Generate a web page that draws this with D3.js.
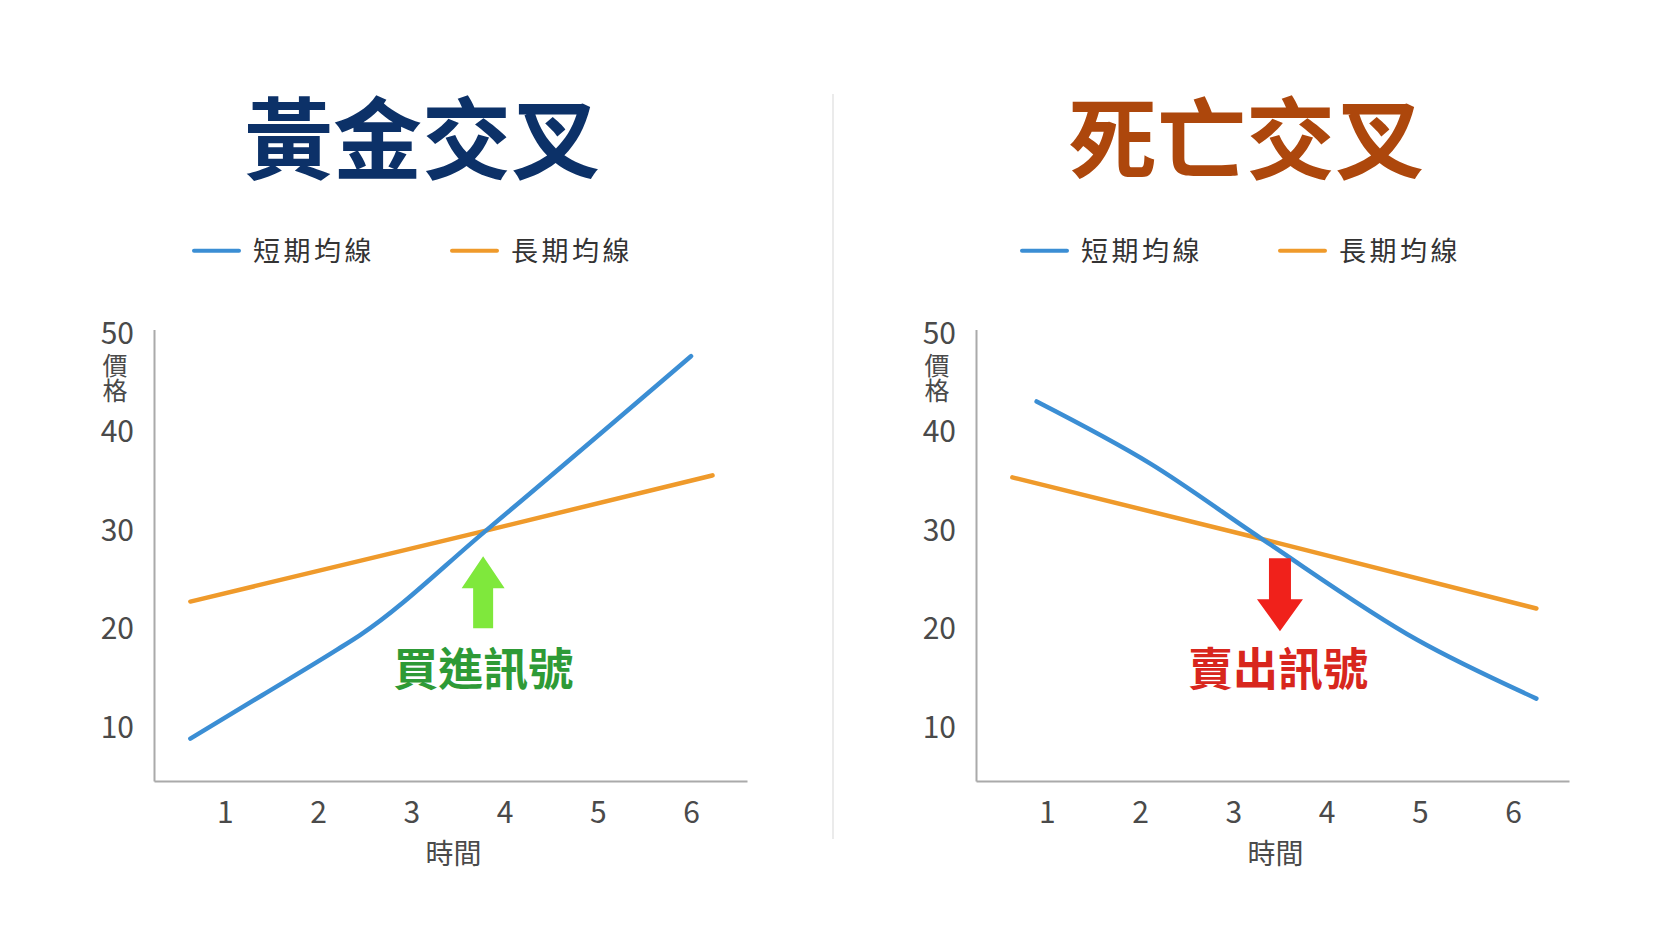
<!DOCTYPE html>
<html><head><meta charset="utf-8">
<script src="https://cdn.jsdelivr.net/npm/d3@7"></script>
<style>
html,body{margin:0;padding:0;background:#fff;}
svg{display:block;}
text{font-family:"Noto Sans CJK TC","Noto Sans CJK SC",sans-serif;}
</style></head>
<body>
<svg id="c" width="1666" height="937"></svg>
<script>
// ---- data ----
const timeTicks = [1, 2, 3, 4, 5, 6];
const priceTicks = [10, 20, 30, 40, 50];
const seriesNames = ["短期均線", "長期均線"];
const panelTitles = ["黃金交叉", "死亡交叉"];
const signalLabels = ["買進訊號", "賣出訊號"];

const goldenShortX = [0.63, 1.4, 2.2, 2.45, 3.8, 6.0];
const goldenShortY = [8.9, 13.3, 17.9, 19.4, 30.0, 47.7];
const goldenLongX = [0.63, 3.8, 6.23];
const goldenLongY = [22.8, 30.0, 35.6];

const deathShortX = [0.89, 2.11, 3.285, 4.975, 6.25];
const deathShortY = [43.1, 36.8, 29.3, 18.9, 12.96];
const deathLongX = [0.63, 3.285, 6.25];
const deathLongY = [35.4, 29.2, 22.1];

// signal annotation anchors (data space): arrow x, arrow start, arrow end, label x, label y
const buySignal = {x: 3.77, from: 20.1, to: 27.4, labelX: 3.77, labelY: 16.0};
const sellSignal = {x: 3.50, from: 27.2, to: 19.8, labelX: 3.48, labelY: 16.0};

// ---- styles ----
const BLUE = "#3b8ed4", ORANGE = "#ef9a2b";
const svg = d3.select("#c");
svg.append("rect").attr("width", 1666).attr("height", 937).attr("fill", "#fff");

// separator
svg.append("line").attr("x1", 833).attr("x2", 833).attr("y1", 94).attr("y2", 839)
  .attr("stroke", "#e4e4e4").attr("stroke-width", 1.5);

const panels = [
  {dx: 0, title: panelTitles[0], titleColor: "#0c3168", titleX: 422,
   short: goldenShortX.map((x, i) => ({x, y: goldenShortY[i]})),
   long: goldenLongX.map((x, i) => ({x, y: goldenLongY[i]})),
   signal: buySignal, label: signalLabels[0], labelColor: "#2e9a36", arrowColor: "#7fe83c",
   legendX: 194},
  {dx: 822, title: panelTitles[1], titleColor: "#ad470c", titleX: 1246,
   short: deathShortX.map((x, i) => ({x, y: deathShortY[i]})),
   long: deathLongX.map((x, i) => ({x, y: deathLongY[i]})),
   signal: sellSignal, label: signalLabels[1], labelColor: "#d8261d", arrowColor: "#f0211b",
   legendX: 1022}
];

panels.forEach(p => {
  const g = svg.append("g");
  const x = d3.scaleLinear().domain([0.24, 6.6]).range([154 + p.dx, 747 + p.dx]);
  const y = d3.scaleLinear().domain([4.6, 50.4]).range([781, 329.5]);

  // title
  g.append("text").attr("x", p.titleX).attr("y", 172).attr("text-anchor", "middle")
    .attr("font-size", 89).attr("font-weight", 700).attr("fill", p.titleColor).text(p.title);

  // legend
  const lg = g.append("g");
  [[BLUE, 0], [ORANGE, 1]].forEach(([col, i]) => {
    const lx = p.legendX + i * 258;
    lg.append("line").attr("x1", lx).attr("x2", lx + 45).attr("y1", 250.7).attr("y2", 250.7)
      .attr("stroke", col).attr("stroke-width", 4).attr("stroke-linecap", "round");
    lg.append("text").attr("x", lx + 59).attr("y", 261).attr("font-size", 27)
      .attr("letter-spacing", 3.5).attr("fill", "#333").text(seriesNames[i]);
  });

  // axes
  const ya = g.append("g").attr("transform", `translate(${x.range()[0]},0)`)
    .call(d3.axisLeft(y).tickValues(priceTicks).tickFormat(d3.format("d"))
      .tickSize(0).tickPadding(20).tickSizeOuter(0));
  const xa = g.append("g").attr("transform", `translate(0,${y.range()[0]})`)
    .call(d3.axisBottom(x).tickValues(timeTicks).tickFormat(d3.format("d"))
      .tickSize(0).tickPadding(21).tickSizeOuter(0));
  [ya, xa].forEach(a => {
    a.select(".domain").attr("stroke", "#aaaaaa").attr("stroke-width", 2);
    a.selectAll("text").attr("font-size", 30).attr("fill", "#4a4a4a")
      .attr("font-family", '"Noto Sans CJK TC", sans-serif');
  });

  // axis titles (stacked vertical characters)
  const yl = x.range()[0] - 39;
  ["價", "格"].forEach((ch, i) => {
    g.append("text").attr("x", yl).attr("y", 375 + i * 25).attr("text-anchor", "middle")
      .attr("font-size", 25).attr("fill", "#4a4a4a").text(ch);
  });
  g.append("text").attr("x", (x.range()[0] + x.range()[1]) / 2 + 3).attr("y", 864)
    .attr("text-anchor", "middle").attr("font-size", 28).attr("fill", "#4a4a4a").text("時間");

  // lines
  const line = d3.line().x(d => x(d.x)).y(d => y(d.y)).curve(d3.curveMonotoneX);
  g.append("path").datum(p.long).attr("d", line).attr("fill", "none")
    .attr("stroke", ORANGE).attr("stroke-width", 4.5).attr("stroke-linecap", "round");
  g.append("path").datum(p.short).attr("d", line).attr("fill", "none")
    .attr("stroke", BLUE).attr("stroke-width", 4.5).attr("stroke-linecap", "round");

  // arrow
  const s = p.signal;
  const ax = x(s.x), y0 = y(s.from), y1 = y(s.to);
  const dir = y1 < y0 ? -1 : 1; // -1 up
  const headLen = 32, headW = dir < 0 ? 21.5 : 23, shaftW = dir < 0 ? 10 : 11;
  const yb = y1 - dir * headLen;
  const pts = [
    [ax - shaftW, y0], [ax - shaftW, yb], [ax - headW, yb], [ax, y1],
    [ax + headW, yb], [ax + shaftW, yb], [ax + shaftW, y0]
  ];
  g.append("path").attr("d", d3.line()(pts) + "Z").attr("fill", p.arrowColor);

  // signal label
  g.append("text").attr("x", x(s.labelX)).attr("y", y(s.labelY) + 17).attr("text-anchor", "middle")
    .attr("font-size", 45).attr("font-weight", 700).attr("fill", p.labelColor).text(p.label);
});
</script>
</body></html>
